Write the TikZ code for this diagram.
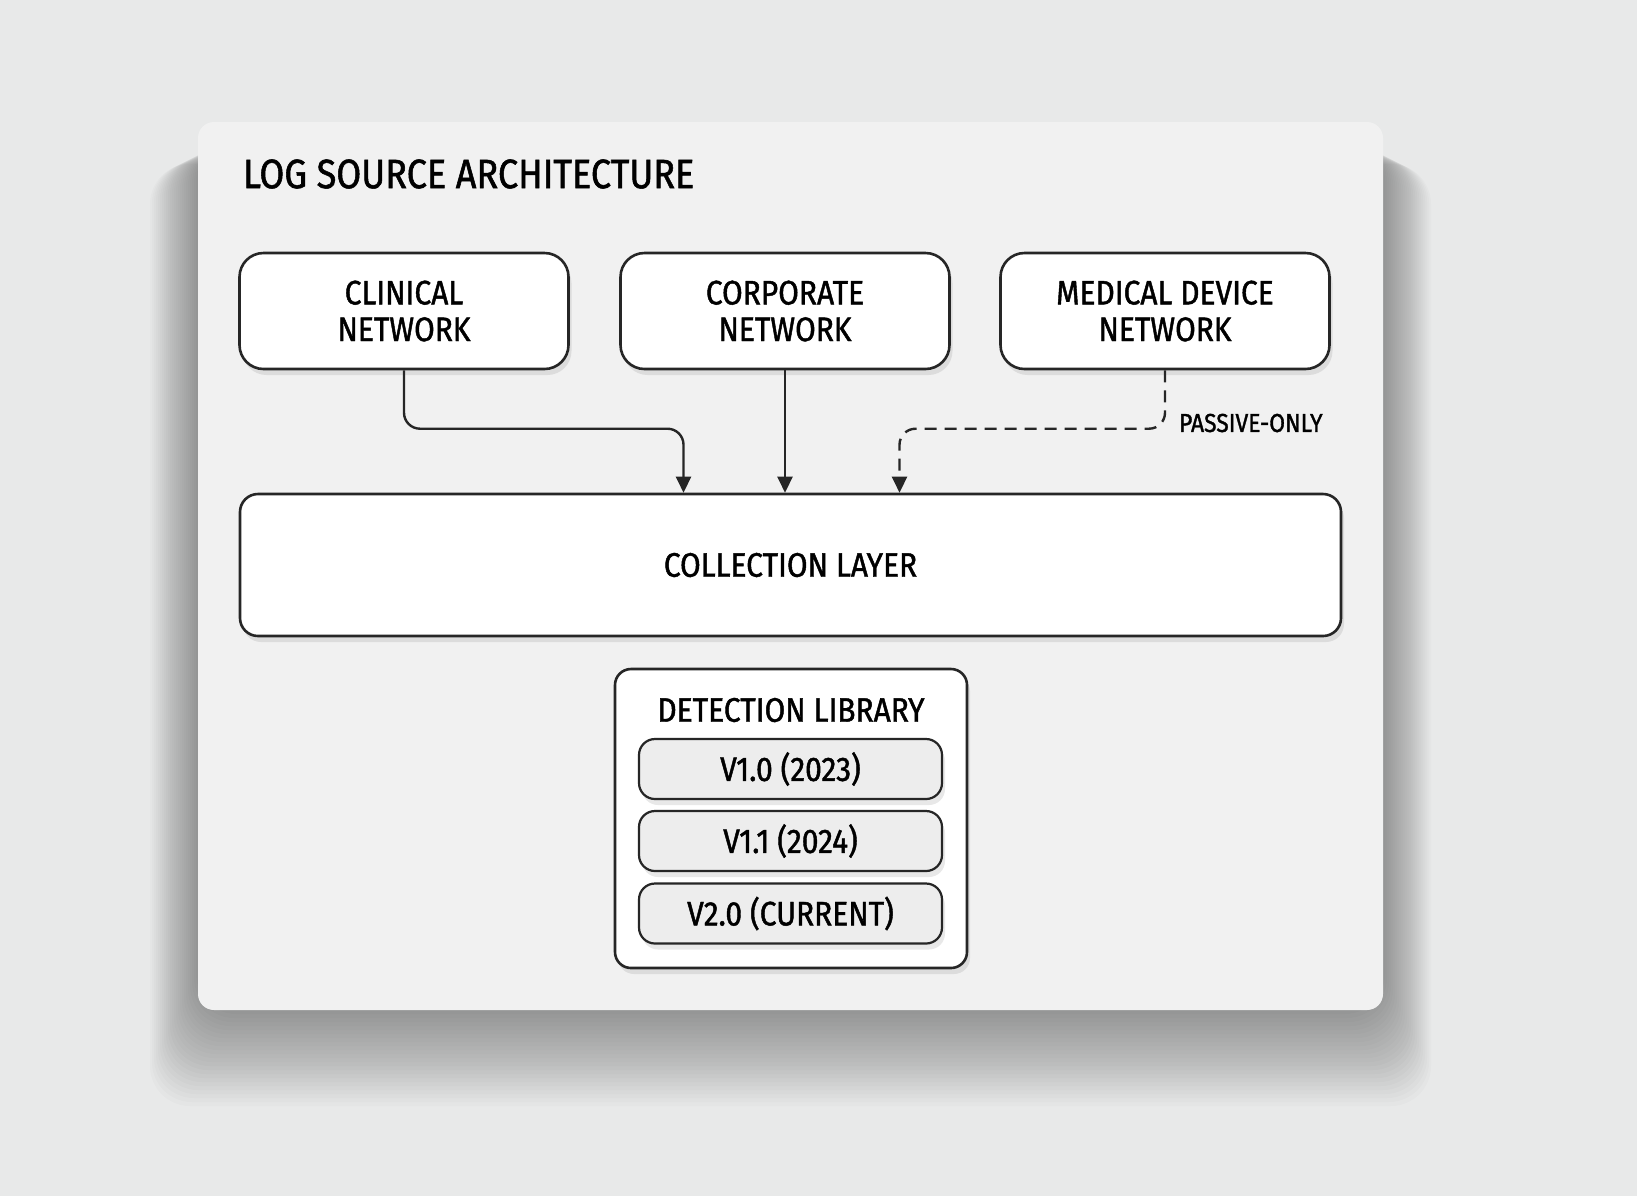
\documentclass[tikz,border=0pt]{standalone}
\usepackage{fontspec}
\setmainfont{Fira Sans}[FakeStretch=0.88, FakeBold=1.3]
\usetikzlibrary{arrows.meta,shadows,calc}

\definecolor{paper}{HTML}{E8E9E9}
\definecolor{card}{HTML}{F1F1F1}
\definecolor{ink}{HTML}{262626}
\definecolor{verfill}{HTML}{EDEDED}

\newcommand{\titlefont}{\fontsize{20.5}{24}\selectfont}
\newcommand{\boxfont}{\fontsize{17}{18.3}\selectfont}
\newcommand{\notefont}{\fontsize{13}{15}\selectfont}

\tikzset{
    soft/.style={drop shadow={shadow xshift=1.5pt, shadow yshift=-3pt, opacity=0.18}},
    net/.style={draw=ink, line width=1.3pt, fill=white, rounded corners=12pt,
        minimum width=164.5pt, minimum height=58pt, inner sep=0pt,
        align=center, font=\boxfont, text=black, soft},
    layer/.style={draw=ink, line width=1.3pt, fill=white, rounded corners=9pt,
        minimum width=550.5pt, minimum height=71pt, font=\boxfont, text=black, soft},
    lib/.style={draw=ink, line width=1.3pt, fill=white, rounded corners=8pt,
        minimum width=176pt, minimum height=149.5pt, soft},
    ver/.style={draw=ink, line width=1.1pt, fill=verfill, rounded corners=8pt,
        minimum width=151.5pt, minimum height=30pt, inner sep=0pt,
        font=\boxfont, text=black, soft},
    flow/.style={draw=ink, line width=1.2pt, rounded corners=8pt,
        -{Triangle[length=8pt, width=7.5pt]}},
}

\begin{document}
\begin{tikzpicture}[x=0.5pt, y=-0.5pt]
% page and card
    \fill[paper] (0,0) rectangle (1637,1196);
    \useasboundingbox (0,0) rectangle (1637,1196);
    \foreach \i in {1,...,24}
        \fill[black, opacity=0.016, rounded corners=20pt]
            (198-\i*2, 140+\i) rectangle (1383+\i*2, 1010+\i*4);
    \fill[card, rounded corners=8pt] (198,122) rectangle (1383,1010);
    \node[anchor=west, font=\titlefont, text=black] (title) at (236,174) {LOG SOURCE ARCHITECTURE};
% sources
    \node[net] (clin) at (404,311) {CLINICAL\\NETWORK};
    \node[net] (corp) at (785,311) {CORPORATE\\NETWORK};
    \node[net] (med) at (1165,311) {MEDICAL DEVICE\\NETWORK};
% collection
    \node[layer] (coll) at (790.5,565) {COLLECTION LAYER};
% detection library
    \node[lib] (lib) at (791,818.5) {};
    \node[font=\boxfont, text=black] (libname) at (791,710) {DETECTION LIBRARY};
    \node[ver] (v10) at (790.5,769) {V1.0 (2023)};
    \node[ver] (v11) at (790.5,841) {V1.1 (2024)};
    \node[ver] (v20) at (790.5,913.5) {V2.0 (CURRENT)};
% feeds
    \draw[flow] (clin.south) |- ($(coll.north)+(-107,-64)$) -- ($(coll.north)+(-107,0)$);
    \draw[flow] (corp.south) -- (corp.south |- coll.north);
    \draw[flow, dash pattern=on 6pt off 4pt] (med.south) |- ($(coll.north)+(109,-64)$) -- ($(coll.north)+(109,0)$);
    \node[anchor=west, font=\notefont, text=black] (passive) at (1172,423) {PASSIVE-ONLY};
\end{tikzpicture}
\end{document}
